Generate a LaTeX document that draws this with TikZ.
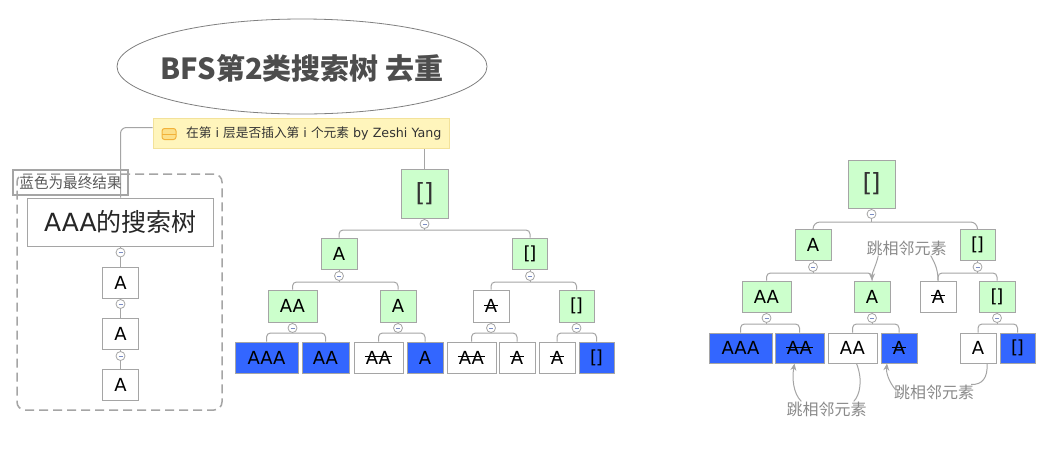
\documentclass[tikz,border=0pt]{standalone}
\usepackage{fontspec}
\setmainfont{DejaVu Sans}
\newfontfamily\cjk{Noto Sans CJK SC}
\newsavebox{\stkbox}
\newcommand{\stk}[1]{\sbox{\stkbox}{#1}\rlap{\hspace{-1pt}\raisebox{0.7ex}{\rule{\dimexpr\wd\stkbox+2pt\relax}{1.1pt}}}\usebox{\stkbox}}
\newcommand{\brk}{[\kern-1.5pt]}
\usetikzlibrary{arrows.meta,shapes.geometric}
\definecolor{lg}{HTML}{A5A5A5}
\definecolor{gfill}{HTML}{CCFFCC}
\definecolor{bfill}{HTML}{3366FF}
\definecolor{notefill}{HTML}{FFF5BC}
\definecolor{notedraw}{HTML}{F3E29A}
\definecolor{anngray}{HTML}{8A8A8A}
\definecolor{titlegray}{HTML}{4D4D4D}
\definecolor{minusblue}{HTML}{7B8DC4}
\definecolor{iconfill}{HTML}{FCE08A}
\definecolor{icondraw}{HTML}{F2B23A}
\pgfdeclarelayer{bg}
\pgfsetlayers{bg,main}
\begin{document}
\begin{tikzpicture}[x=1pt,y=-1pt,
  conn/.style={draw=lg, line width=1pt, rounded corners=4pt},
  box/.style={draw=lg, line width=1pt, inner sep=0pt, minimum height=31pt, font=\fontsize{18}{20}\selectfont, text=black},
  gbox/.style={box, fill=gfill},
  bbox/.style={box, fill=bfill},
  wbox/.style={box, fill=white},
  rootbox/.style={gbox, minimum width=47pt, minimum height=49pt, font=\fontsize{25}{27}\selectfont, text=black!80},
  tog/.style={circle, draw=lg, line width=0.8pt, fill=white, minimum size=9pt, inner sep=0pt,
    path picture={\draw[minusblue, line width=0.8pt] ([xshift=-2pt]path picture bounding box.center) -- ([xshift=2pt]path picture bounding box.center);}},
  ann/.style={draw=lg, line width=1pt},
  annarrow/.style={ann, -{Stealth[length=7pt,width=6pt]}},
  annlabel/.style={font=\cjk\fontsize{16}{18}\selectfont, text=anngray, inner sep=1pt},
]
\begin{pgfonlayer}{bg}
\fill[white] (0,0) rectangle (1051,451);
\end{pgfonlayer}
\useasboundingbox (0,0) rectangle (1051,451);

% title
\node[ellipse, draw=black!50, line width=0.8pt, fill=white, minimum width=370pt, minimum height=95pt, inner sep=0pt] (titleshape) at (302,66.5) {};
\node[font=\cjk\bfseries\fontsize{29}{31}\selectfont, text=titlegray, inner sep=0pt] (title) at (302,68) {BFS第2类搜索树 去重};

% note
\node[draw=notedraw, line width=1pt, fill=notefill, minimum width=296pt, minimum height=30pt, inner sep=0pt] (note) at (301,133) {};
\node[draw=icondraw, fill=iconfill, rounded corners=2.5pt, line width=1pt, minimum width=14pt, minimum height=11pt, inner sep=0pt,
  path picture={\draw[icondraw, line width=1pt] (path picture bounding box.west) -- (path picture bounding box.east);}] (icon) at (169,134) {};
\node[anchor=west, inner sep=0pt, text=black!80, font=\fontsize{12.7}{14}\selectfont] (notetext) at (186,133)
  {{\cjk 在第} i {\cjk 层是否插入第} i {\cjk 个元素} by Zeshi Yang};

% left group
\node[draw=lg, dashed, dash pattern=on 9pt off 5pt, line width=1.5pt, rounded corners=8pt,
  minimum width=205pt, minimum height=236pt, inner sep=0pt] (grp) at (119.5,292) {};
\node[draw=lg, line width=1.6pt, minimum width=115pt, minimum height=25pt, inner sep=0pt,
  font=\cjk\fontsize{14.6}{16}\selectfont, text=black!65] (lbl) at (70.5,182.5) {蓝色为最终结果};
\node[box, fill=white, minimum width=186pt, minimum height=48pt, font=\fontsize{25}{28}\selectfont, text=black!85] (aaa) at (120.5,222) {AAA{\cjk 的搜索树}};
\node[wbox, minimum width=36pt] (la1) at (120.5,282.5) {A};
\node[wbox, minimum width=36pt] (la2) at (120.5,333.5) {A};
\node[wbox, minimum width=36pt] (la3) at (120.5,384.5) {A};
\node[tog] (lt0) at (120.5,252.5) {};
\node[tog] (lt1) at (120.5,304) {};
\node[tog] (lt2) at (120.5,356) {};

% middle tree
\node[rootbox] (m0) at (424.5,193.5) {\brk};
\node[gbox, minimum width=36pt] (m1) at (339,253.5) {A};
\node[gbox, minimum width=35pt] (m2) at (530,253.5) {\brk};
\node[gbox, minimum width=49pt, minimum height=32pt] (m11) at (292.5,306) {AA};
\node[gbox, minimum width=36pt, minimum height=32pt] (m12) at (398,306) {A};
\node[wbox, minimum width=36pt, minimum height=32pt] (m21) at (491,306) {\stk{A}};
\node[gbox, minimum width=35pt, minimum height=32pt] (m22) at (576.5,306) {\brk};
\node[bbox, minimum width=63pt] (m111) at (266.5,357.5) {AAA};
\node[bbox, minimum width=47pt] (m112) at (325.5,357.5) {AA};
\node[wbox, minimum width=49pt] (m121) at (378.5,357.5) {\stk{AA}};
\node[bbox, minimum width=36pt] (m122) at (425,357.5) {A};
\node[wbox, minimum width=49pt] (m211) at (471.5,357.5) {\stk{AA}};
\node[wbox, minimum width=36pt] (m212) at (517,357.5) {\stk{A}};
\node[wbox, minimum width=36pt] (m221) at (557,357.5) {\stk{A}};
\node[bbox, minimum width=35pt] (m222) at (596.5,357.5) {\brk};
\node[tog] (mt0) at (424.5,224) {};
\node[tog] (mt1) at (339,276) {};
\node[tog] (mt2) at (530,276) {};
\node[tog] (mt11) at (292.5,328) {};
\node[tog] (mt12) at (398,328) {};
\node[tog] (mt21) at (491,328) {};
\node[tog] (mt22) at (576.5,328) {};
\coordinate (mb0) at (424.5,230);
\coordinate (mb1) at (339,282);
\coordinate (mb2) at (530,282);
\coordinate (mb11) at (292.5,333);
\coordinate (mb12) at (398,333);
\coordinate (mb21) at (491,333);
\coordinate (mb22) at (576.5,333);

% right tree
\node[rootbox, minimum height=48pt] (r0) at (871.5,184) {\brk};
\node[gbox, minimum width=36pt] (r1) at (813,244.5) {A};
\node[gbox, minimum width=35pt] (r2) at (977.5,244.5) {\brk};
\node[gbox, minimum width=49pt] (r11) at (766.5,296.5) {AA};
\node[gbox, minimum width=36pt] (r12) at (872,296.5) {A};
\node[wbox, minimum width=36pt] (r21) at (938,296.5) {\stk{A}};
\node[gbox, minimum width=36pt] (r22) at (997,296.5) {\brk};
\node[bbox, minimum width=63pt, minimum height=30pt] (r111) at (740.5,348) {AAA};
\node[bbox, minimum width=49pt, minimum height=30pt] (r112) at (799.5,348) {\stk{AA}};
\node[wbox, minimum width=49pt, minimum height=30pt] (r121) at (852.5,348) {AA};
\node[bbox, minimum width=36pt, minimum height=30pt] (r122) at (899,348) {\stk{A}};
\node[wbox, minimum width=36pt, minimum height=30pt] (r221) at (978,348) {A};
\node[bbox, minimum width=35pt, minimum height=30pt] (r222) at (1017.5,348) {\brk};
\node[tog] (rt0) at (871.5,214) {};
\node[tog] (rt1) at (813,267) {};
\node[tog] (rt2) at (977.5,267) {};
\node[tog] (rt11) at (766.5,318) {};
\node[tog] (rt12) at (872,318) {};
\node[tog] (rt22) at (997,318) {};
\coordinate (rb0) at (871.5,222);
\coordinate (rb1) at (813,273);
\coordinate (rb2) at (977.5,273);
\coordinate (rb11) at (766.5,324);
\coordinate (rb12) at (872,324);
\coordinate (rb22) at (997,324);

% annotation labels
\node[annlabel] (L1) at (906.5,248) {跳相邻元素};
\node[annlabel] (L2) at (826.5,409) {跳相邻元素};
\node[annlabel] (L3) at (934,392) {跳相邻元素};

\begin{pgfonlayer}{bg}
  % note links
  \draw[conn, rounded corners=6pt] ([yshift=5.5pt]note.west) -| (aaa.north);
  \draw[conn] (note.south -| m0.north) -- (m0.north);
  % left chain
  \draw[conn] (aaa.south) -- (la1.north);
  \draw[conn] (la1.south) -- (la2.north);
  \draw[conn] (la2.south) -- (la3.north);
  % middle tree
  \draw[conn] (m0.south) -- (mb0);
  \draw[conn] (m1.north) |- (mb0) -| (m2.north);
  \draw[conn] (m1.south) -- (mb1);
  \draw[conn] (m11.north) |- (mb1) -| (m12.north);
  \draw[conn] (m2.south) -- (mb2);
  \draw[conn] (m21.north) |- (mb2) -| (m22.north);
  \draw[conn] (m11.south) -- (mb11);
  \draw[conn] (m111.north) |- (mb11) -| (m112.north);
  \draw[conn] (m12.south) -- (mb12);
  \draw[conn] (m121.north) |- (mb12) -| (m122.north);
  \draw[conn] (m21.south) -- (mb21);
  \draw[conn] (m211.north) |- (mb21) -| (m212.north);
  \draw[conn] (m22.south) -- (mb22);
  \draw[conn] (m221.north) |- (mb22) -| (m222.north);
  % right tree
  \draw[conn] (r0.south) -- (rb0);
  \draw[conn, rounded corners=7pt] (r1.north) |- (rb0) -| (r2.north);
  \draw[conn] (r1.south) -- (rb1);
  \draw[conn] (r11.north) |- (rb1) -| (r12.north);
  \draw[conn] (r2.south) -- (rb2);
  \draw[conn] (r21.north) |- (rb2) -| (r22.north);
  \draw[conn] (r11.south) -- (rb11);
  \draw[conn] (r111.north) |- (rb11) -| (r112.north);
  \draw[conn] (r12.south) -- (rb12);
  \draw[conn] (r121.north) |- (rb12) -| (r122.north);
  \draw[conn] (r22.south) -- (rb22);
  \draw[conn] (r221.north) |- (rb22) -| (r222.north);
\end{pgfonlayer}

% annotation curves
\draw[annarrow] ([xshift=13pt,yshift=1pt]L1.south west) .. controls (876,266) and (872,272) .. (r12.north);
\draw[ann] ([xshift=-17pt,yshift=1pt]L1.south east) .. controls (934,262) and (938,268) .. (r21.north);
\draw[annarrow] ([xshift=16pt,yshift=-1pt]L2.north west) .. controls (793,393) and (792,378) .. ([xshift=-5pt]r112.south);
\draw[ann] ([xshift=4pt]r121.south) .. controls (863,380) and (860,395) .. ([xshift=-14pt,yshift=-1pt]L2.north east);
\draw[annarrow] ([xshift=3pt,yshift=2pt]L3.west) .. controls (889,382) and (886,373) .. ([xshift=-12pt]r122.south);
\draw[ann] ([xshift=9pt]r221.south) .. controls (988,378) and (982,385) .. ([xshift=-4pt,yshift=-1pt]L3.north east);
\end{tikzpicture}
\end{document}
